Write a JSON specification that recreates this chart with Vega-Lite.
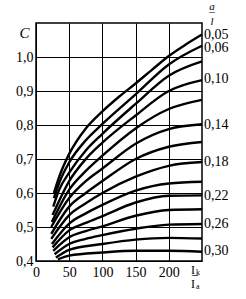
{
  "$schema": "https://vega.github.io/schema/vega-lite/v6.json",
  "width": 166,
  "height": 238,
  "autosize": {"type": "none"},
  "padding": {"left": 36, "top": 23, "right": 44, "bottom": 38},
  "background": "white",
  "config": {"font": "Liberation Serif", "view": {"stroke": "black", "strokeWidth": 1.5}},
  "datasets": {
    "curves": [
      {"r": "0.05", "x": 27, "c": 0.600}, {"r": "0.05", "x": 35, "c": 0.648}, {"r": "0.05", "x": 50, "c": 0.715}, {"r": "0.05", "x": 75, "c": 0.790}, {"r": "0.05", "x": 100, "c": 0.840}, {"r": "0.05", "x": 125, "c": 0.883}, {"r": "0.05", "x": 150, "c": 0.922}, {"r": "0.05", "x": 175, "c": 0.963}, {"r": "0.05", "x": 200, "c": 1.003}, {"r": "0.05", "x": 225, "c": 1.036}, {"r": "0.05", "x": 250, "c": 1.066},
      {"r": "0.06", "x": 27, "c": 0.585}, {"r": "0.06", "x": 35, "c": 0.630}, {"r": "0.06", "x": 50, "c": 0.690}, {"r": "0.06", "x": 75, "c": 0.755}, {"r": "0.06", "x": 100, "c": 0.803}, {"r": "0.06", "x": 150, "c": 0.890}, {"r": "0.06", "x": 200, "c": 0.978}, {"r": "0.06", "x": 250, "c": 1.033},
      {"r": "0.08", "x": 26, "c": 0.560}, {"r": "0.08", "x": 35, "c": 0.610}, {"r": "0.08", "x": 50, "c": 0.660}, {"r": "0.08", "x": 75, "c": 0.725}, {"r": "0.08", "x": 100, "c": 0.774}, {"r": "0.08", "x": 150, "c": 0.862}, {"r": "0.08", "x": 200, "c": 0.945}, {"r": "0.08", "x": 250, "c": 0.987},
      {"r": "0.10", "x": 25, "c": 0.535}, {"r": "0.10", "x": 50, "c": 0.635}, {"r": "0.10", "x": 75, "c": 0.700}, {"r": "0.10", "x": 100, "c": 0.748}, {"r": "0.10", "x": 150, "c": 0.828}, {"r": "0.10", "x": 200, "c": 0.900}, {"r": "0.10", "x": 250, "c": 0.932},
      {"r": "0.12", "x": 24, "c": 0.515}, {"r": "0.12", "x": 50, "c": 0.610}, {"r": "0.12", "x": 75, "c": 0.665}, {"r": "0.12", "x": 100, "c": 0.710}, {"r": "0.12", "x": 150, "c": 0.790}, {"r": "0.12", "x": 200, "c": 0.847}, {"r": "0.12", "x": 250, "c": 0.874},
      {"r": "0.14", "x": 23, "c": 0.500}, {"r": "0.14", "x": 50, "c": 0.585}, {"r": "0.14", "x": 75, "c": 0.635}, {"r": "0.14", "x": 100, "c": 0.672}, {"r": "0.14", "x": 150, "c": 0.745}, {"r": "0.14", "x": 200, "c": 0.788}, {"r": "0.14", "x": 250, "c": 0.802},
      {"r": "0.16", "x": 23, "c": 0.480}, {"r": "0.16", "x": 50, "c": 0.560}, {"r": "0.16", "x": 75, "c": 0.600}, {"r": "0.16", "x": 100, "c": 0.635}, {"r": "0.16", "x": 150, "c": 0.700}, {"r": "0.16", "x": 200, "c": 0.736}, {"r": "0.16", "x": 250, "c": 0.750},
      {"r": "0.18", "x": 23, "c": 0.465}, {"r": "0.18", "x": 50, "c": 0.535}, {"r": "0.18", "x": 75, "c": 0.570}, {"r": "0.18", "x": 100, "c": 0.600}, {"r": "0.18", "x": 150, "c": 0.648}, {"r": "0.18", "x": 200, "c": 0.680}, {"r": "0.18", "x": 250, "c": 0.691},
      {"r": "0.20", "x": 24, "c": 0.450}, {"r": "0.20", "x": 50, "c": 0.510}, {"r": "0.20", "x": 75, "c": 0.540}, {"r": "0.20", "x": 100, "c": 0.565}, {"r": "0.20", "x": 150, "c": 0.607}, {"r": "0.20", "x": 200, "c": 0.628}, {"r": "0.20", "x": 250, "c": 0.633},
      {"r": "0.22", "x": 25, "c": 0.440}, {"r": "0.22", "x": 50, "c": 0.490}, {"r": "0.22", "x": 75, "c": 0.512}, {"r": "0.22", "x": 100, "c": 0.532}, {"r": "0.22", "x": 150, "c": 0.572}, {"r": "0.22", "x": 200, "c": 0.592}, {"r": "0.22", "x": 250, "c": 0.593},
      {"r": "0.24", "x": 26, "c": 0.430}, {"r": "0.24", "x": 50, "c": 0.470}, {"r": "0.24", "x": 75, "c": 0.488}, {"r": "0.24", "x": 100, "c": 0.502}, {"r": "0.24", "x": 150, "c": 0.533}, {"r": "0.24", "x": 200, "c": 0.550}, {"r": "0.24", "x": 250, "c": 0.552},
      {"r": "0.26", "x": 28, "c": 0.420}, {"r": "0.26", "x": 50, "c": 0.450}, {"r": "0.26", "x": 75, "c": 0.465}, {"r": "0.26", "x": 100, "c": 0.476}, {"r": "0.26", "x": 150, "c": 0.495}, {"r": "0.26", "x": 200, "c": 0.507}, {"r": "0.26", "x": 250, "c": 0.509},
      {"r": "0.28", "x": 30, "c": 0.410}, {"r": "0.28", "x": 50, "c": 0.433}, {"r": "0.28", "x": 100, "c": 0.450}, {"r": "0.28", "x": 150, "c": 0.463}, {"r": "0.28", "x": 200, "c": 0.468}, {"r": "0.28", "x": 250, "c": 0.466},
      {"r": "0.30", "x": 33, "c": 0.405}, {"r": "0.30", "x": 50, "c": 0.416}, {"r": "0.30", "x": 100, "c": 0.425}, {"r": "0.30", "x": 150, "c": 0.430}, {"r": "0.30", "x": 200, "c": 0.430}, {"r": "0.30", "x": 250, "c": 0.427}
    ],
    "labels": [
      {"lbl": "0,05", "x": 250, "c": 1.066},
      {"lbl": "0,06", "x": 250, "c": 1.026},
      {"lbl": "0,10", "x": 250, "c": 0.935},
      {"lbl": "0,14", "x": 250, "c": 0.800},
      {"lbl": "0,18", "x": 250, "c": 0.690},
      {"lbl": "0,22", "x": 250, "c": 0.592},
      {"lbl": "0,26", "x": 250, "c": 0.510},
      {"lbl": "0,30", "x": 250, "c": 0.430}
    ],
    "one": [{}]
  },
  "layer": [
    {
      "data": {"name": "curves"},
      "mark": {"type": "line", "color": "black", "strokeWidth": 2.4, "interpolate": "monotone"},
      "encoding": {
        "x": {"field": "x", "type": "quantitative", "scale": {"domain": [0, 250], "nice": false},
          "axis": {"values": [0, 50, 100, 150, 200], "tickCount": 20, "grid": true, "gridColor": "black", "gridOpacity": 1, "gridWidth": 1, "domain": false, "ticks": false, "labelFont": "Liberation Serif", "labelFontSize": 14, "labelColor": "black", "labelPadding": 4, "labelFlush": false, "labelOverlap": false, "title": null}},
        "y": {"field": "c", "type": "quantitative", "scale": {"domain": [0.4, 1.1], "nice": false, "zero": false},
          "axis": {"values": [0.4, 0.5, 0.6, 0.7, 0.8, 0.9, 1.0], "tickCount": 20, "grid": true, "gridColor": "black", "gridOpacity": 1, "gridWidth": 1, "domain": false, "ticks": false, "labelFont": "Liberation Serif", "labelFontSize": 14, "labelColor": "black", "labelPadding": 3, "labelFlush": false, "labelOverlap": false, "labelExpr": "replace(format(datum.value, '.1f'), '.', ',')", "title": "C", "titleAngle": 0, "titleX": -12, "titleY": 9, "titleFont": "Liberation Serif", "titleFontStyle": "italic", "titleFontWeight": "normal", "titleFontSize": 15, "titleColor": "black", "titleAlign": "center", "titleBaseline": "middle"}},
        "detail": {"field": "r"}
      }
    },
    {
      "data": {"name": "labels"},
      "mark": {"type": "text", "align": "left", "baseline": "middle", "dx": 2, "fontSize": 14, "font": "Liberation Serif", "color": "black"},
      "encoding": {
        "x": {"field": "x", "type": "quantitative"},
        "y": {"field": "c", "type": "quantitative"},
        "text": {"field": "lbl"}
      }
    },
    {
      "data": {"name": "one"},
      "mark": {"type": "text", "align": "center", "baseline": "alphabetic", "dx": 10, "dy": -13, "fontSize": 11, "fontStyle": "italic", "font": "Liberation Serif", "color": "black"},
      "encoding": {"x": {"datum": 250, "type": "quantitative"}, "y": {"datum": 1.1, "type": "quantitative"}, "text": {"value": "a"}}
    },
    {
      "data": {"name": "one"},
      "mark": {"type": "text", "align": "center", "baseline": "alphabetic", "dx": 10, "dy": -8, "fontSize": 11, "font": "Liberation Serif", "color": "black"},
      "encoding": {"x": {"datum": 250, "type": "quantitative"}, "y": {"datum": 1.1, "type": "quantitative"}, "text": {"value": "–"}}
    },
    {
      "data": {"name": "one"},
      "mark": {"type": "text", "align": "center", "baseline": "alphabetic", "dx": 10, "dy": 2, "fontSize": 11, "fontStyle": "italic", "font": "Liberation Serif", "color": "black"},
      "encoding": {"x": {"datum": 250, "type": "quantitative"}, "y": {"datum": 1.1, "type": "quantitative"}, "text": {"value": "l"}}
    },
    {
      "data": {"name": "one"},
      "mark": {"type": "text", "align": "center", "baseline": "alphabetic", "dx": -9, "dy": 13, "fontSize": 12, "font": "Liberation Serif", "color": "black"},
      "encoding": {"x": {"datum": 250, "type": "quantitative"}, "y": {"datum": 0.4, "type": "quantitative"}, "text": {"value": "I"}}
    },
    {
      "data": {"name": "one"},
      "mark": {"type": "text", "align": "left", "baseline": "alphabetic", "dx": -6, "dy": 14, "fontSize": 8, "font": "Liberation Serif", "color": "black"},
      "encoding": {"x": {"datum": 250, "type": "quantitative"}, "y": {"datum": 0.4, "type": "quantitative"}, "text": {"value": "k"}}
    },
    {
      "data": {"name": "one"},
      "mark": {"type": "text", "align": "center", "baseline": "alphabetic", "dx": -7, "dy": 17, "fontSize": 12, "font": "Liberation Serif", "color": "black"},
      "encoding": {"x": {"datum": 250, "type": "quantitative"}, "y": {"datum": 0.4, "type": "quantitative"}, "text": {"value": "–"}}
    },
    {
      "data": {"name": "one"},
      "mark": {"type": "text", "align": "center", "baseline": "alphabetic", "dx": -9, "dy": 27, "fontSize": 12, "font": "Liberation Serif", "color": "black"},
      "encoding": {"x": {"datum": 250, "type": "quantitative"}, "y": {"datum": 0.4, "type": "quantitative"}, "text": {"value": "I"}}
    },
    {
      "data": {"name": "one"},
      "mark": {"type": "text", "align": "left", "baseline": "alphabetic", "dx": -6, "dy": 28, "fontSize": 8, "font": "Liberation Serif", "color": "black"},
      "encoding": {"x": {"datum": 250, "type": "quantitative"}, "y": {"datum": 0.4, "type": "quantitative"}, "text": {"value": "a"}}
    }
  ]
}
